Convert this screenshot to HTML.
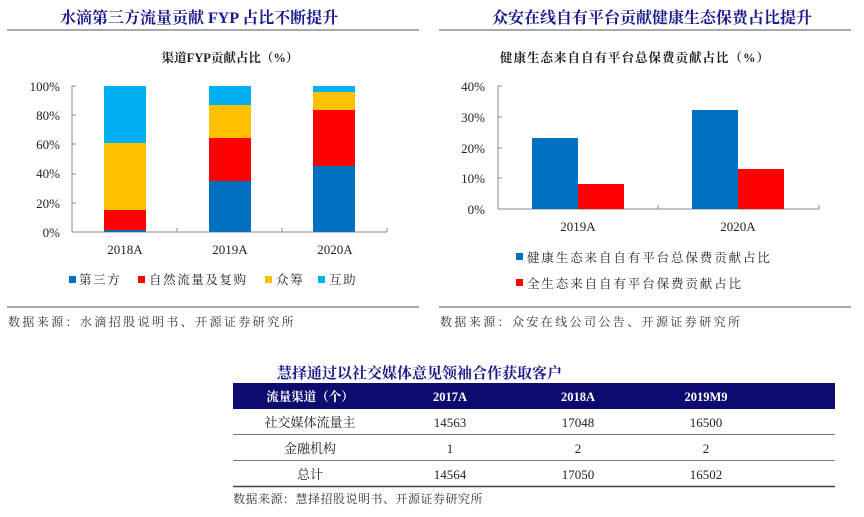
<!DOCTYPE html>
<html><head><meta charset="utf-8"><style>
body{margin:0;background:#fff;width:864px;height:512px;overflow:hidden;font-family:"Liberation Serif","Noto Serif CJK SC",serif}
svg text{font-family:"Liberation Serif","Noto Serif CJK SC",serif}
</style></head><body>
<svg width="864" height="512" xmlns="http://www.w3.org/2000/svg">
<!-- Left panel -->
<text x="60" y="23" font-size="16" font-weight="bold" fill="#1a1a8c">水滴第三方流量贡献 FYP 占比不断提升</text>
<line x1="7" y1="30" x2="419" y2="30" stroke="#555" stroke-width="1"/>
<text x="230" y="62" font-size="12.5" font-weight="bold" text-anchor="middle" fill="#222">渠道FYP贡献占比（%）</text>
<g font-size="13" fill="#222" text-anchor="end">
<text x="60" y="91">100%</text><text x="60" y="120">80%</text><text x="60" y="149">60%</text><text x="60" y="178">40%</text><text x="60" y="208">20%</text><text x="60" y="237">0%</text>
</g>
<g stroke="#888"><line x1="72" y1="86" x2="72" y2="232"/><line x1="72" y1="232" x2="387" y2="232"/>
<line x1="72" y1="86" x2="76" y2="86"/><line x1="72" y1="115" x2="76" y2="115"/><line x1="72" y1="144" x2="76" y2="144"/><line x1="72" y1="174" x2="76" y2="174"/><line x1="72" y1="203" x2="76" y2="203"/>
<line x1="177" y1="232" x2="177" y2="228"/><line x1="282" y1="232" x2="282" y2="228"/><line x1="387" y1="232" x2="387" y2="228"/></g>
<rect x="104" y="86" width="42" height="57" fill="#00b0f0"/>
<rect x="104" y="143" width="42" height="67" fill="#ffc000"/>
<rect x="104" y="210" width="42" height="20" fill="#ff0000"/>
<rect x="104" y="230" width="42" height="2" fill="#0070c0"/>
<rect x="209" y="86" width="42" height="19" fill="#00b0f0"/>
<rect x="209" y="105" width="42" height="33" fill="#ffc000"/>
<rect x="209" y="138" width="42" height="43" fill="#ff0000"/>
<rect x="209" y="181" width="42" height="51" fill="#0070c0"/>
<rect x="313" y="86" width="42" height="6" fill="#00b0f0"/>
<rect x="313" y="92" width="42" height="18" fill="#ffc000"/>
<rect x="313" y="110" width="42" height="56" fill="#ff0000"/>
<rect x="313" y="166" width="42" height="66" fill="#0070c0"/>
<g font-size="13" fill="#222" text-anchor="middle"><text x="125" y="254">2018A</text><text x="230" y="254">2019A</text><text x="335" y="254">2020A</text></g>
<g font-size="12.5" fill="#222" letter-spacing="1.6">
<rect x="69" y="276" width="7" height="7" fill="#0070c0"/><text x="79" y="284">第三方</text>
<rect x="138" y="276" width="7" height="7" fill="#ff0000"/><text x="149" y="284">自然流量及复购</text>
<rect x="265" y="276" width="7" height="7" fill="#ffc000"/><text x="276" y="284">众筹</text>
<rect x="318" y="276" width="7" height="7" fill="#00b0f0"/><text x="329" y="284">互助</text>
</g>
<line x1="7" y1="307" x2="419" y2="307" stroke="#555"/>
<text x="8" y="326" font-size="12" fill="#333" letter-spacing="2.4">数据来源：水滴招股说明书、开源证券研究所</text>

<!-- Right panel -->
<text x="492" y="23" font-size="16" font-weight="bold" fill="#1a1a8c">众安在线自有平台贡献健康生态保费占比提升</text>
<line x1="439" y1="30" x2="851" y2="30" stroke="#555"/>
<text x="500" y="62" font-size="12.5" font-weight="bold" fill="#222" letter-spacing="1">健康生态来自自有平台总保费贡献占比（%）</text>
<g font-size="13" fill="#222" text-anchor="end">
<text x="485" y="91">40%</text><text x="485" y="122">30%</text><text x="485" y="153">20%</text><text x="485" y="183">10%</text><text x="485" y="214">0%</text>
</g>
<g stroke="#888"><line x1="498" y1="86" x2="498" y2="209"/><line x1="498" y1="209" x2="819" y2="209"/>
<line x1="498" y1="86" x2="502" y2="86"/><line x1="498" y1="117" x2="502" y2="117"/><line x1="498" y1="148" x2="502" y2="148"/><line x1="498" y1="178" x2="502" y2="178"/>
<line x1="658" y1="209" x2="658" y2="205"/><line x1="819" y1="209" x2="819" y2="205"/></g>
<rect x="532" y="138" width="46" height="71" fill="#0070c0"/>
<rect x="578" y="184" width="46" height="25" fill="#ff0000"/>
<rect x="692" y="110" width="46" height="99" fill="#0070c0"/>
<rect x="738" y="169" width="46" height="40" fill="#ff0000"/>
<g font-size="13" fill="#222" text-anchor="middle"><text x="578" y="231">2019A</text><text x="738" y="231">2020A</text></g>
<g font-size="12.5" fill="#222" letter-spacing="1.9">
<rect x="516" y="253" width="7" height="7" fill="#0070c0"/><text x="527" y="262">健康生态来自自有平台总保费贡献占比</text>
<rect x="516" y="279" width="7" height="7" fill="#ff0000"/><text x="527" y="288">全生态来自自有平台保费贡献占比</text>
</g>
<line x1="439" y1="307" x2="851" y2="307" stroke="#555"/>
<text x="440" y="326" font-size="12" fill="#333" letter-spacing="2.4">数据来源：众安在线公司公告、开源证券研究所</text>

<!-- Table -->
<text x="277" y="378" font-size="15" font-weight="bold" fill="#1a1a8c">慧择通过以社交媒体意见领袖合作获取客户</text>
<rect x="233" y="383" width="602" height="26" fill="#0c0c70"/>
<g font-size="12.5" font-weight="bold" fill="#fff" text-anchor="middle">
<text x="310" y="401">流量渠道（个）</text><text x="450" y="401">2017A</text><text x="578" y="401">2018A</text><text x="706" y="401">2019M9</text>
</g>
<g font-size="13" fill="#222" text-anchor="middle">
<text x="310" y="427">社交媒体流量主</text><text x="450" y="427">14563</text><text x="578" y="427">17048</text><text x="706" y="427">16500</text>
<text x="310" y="453">金融机构</text><text x="450" y="453">1</text><text x="578" y="453">2</text><text x="706" y="453">2</text>
<text x="310" y="479">总计</text><text x="450" y="479">14564</text><text x="578" y="479">17050</text><text x="706" y="479">16502</text>
</g>
<g stroke="#777"><line x1="233" y1="434.5" x2="835" y2="434.5"/><line x1="233" y1="460.5" x2="835" y2="460.5"/><line x1="233" y1="486.5" x2="835" y2="486.5" stroke="#444" stroke-width="1.5"/></g>
<text x="233" y="503" font-size="12" fill="#333" letter-spacing="0.5">数据来源：慧择招股说明书、开源证券研究所</text>
</svg>
</body></html>
